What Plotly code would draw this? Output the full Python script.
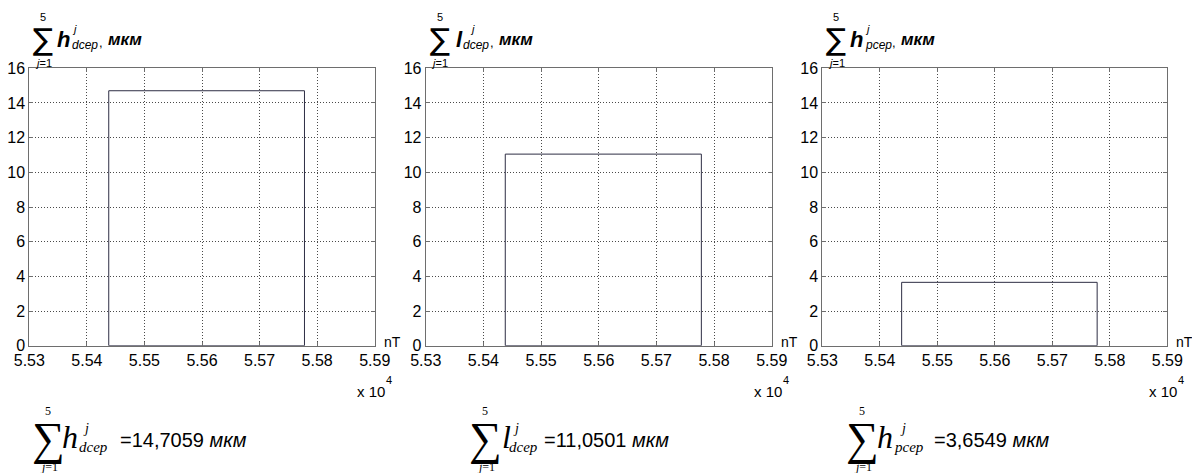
import plotly.graph_objects as go

# ---- data ----
tick_values = [55300, 55400, 55500, 55600, 55700, 55800, 55900]
tick_labels = ["5.53", "5.54", "5.55", "5.56", "5.57", "5.58", "5.59"]
y_ticks = [0, 2, 4, 6, 8, 10, 12, 14, 16]
bin_left = [55438, 55438, 55438]
bin_right = [55778, 55778, 55778]
sum_values = [14.7059, 11.0501, 3.6549]
value_texts = ["14,7059", "11,0501", "3,6549"]
symbols = ["h", "l", "h"]
subscripts = ["dcep", "dcep", "pcep"]

W, H = 1192, 473
SANS = "Liberation Sans, Arial, sans-serif"
SERIF = "Liberation Serif, Times New Roman, serif"
AXC = "#6e6e6e"

def px(x):
    return x / W

def py(y):
    return 1 - y / H

axis_left = [29.3, 425.7, 822.3]
axis_right = [374.7, 771.7, 1167.3]
y_top, y_bot = 68.3, 345.7

fig = go.Figure()
layout = dict(
    width=W, height=H, margin=dict(l=0, r=0, t=0, b=0, autoexpand=False),
    paper_bgcolor="white", plot_bgcolor="white", showlegend=False,
)
annotations = []

def ann(x, y, text, size, family=SANS, xanchor="center", yanchor="middle", color="#000"):
    annotations.append(dict(
        x=px(x), y=py(y), xref="paper", yref="paper", text=text, showarrow=False,
        xanchor=xanchor, yanchor=yanchor,
        font=dict(size=size, family=family, color=color),
    ))

# offsets (relative to the sum sign centre) for the title pieces
title_off = [
    dict(sym=12, sup=27, sub=27, comma=54, unit=63),
    dict(sym=14, sup=28, sub=21, comma=48, unit=57),
    dict(sym=12, sup=27, sub=27, comma=54, unit=63),
]
bottom_off = [
    dict(sym=12, sup=33, sub=29, eq=70),
    dict(sym=15, sup=26, sub=22, eq=57),
    dict(sym=13, sup=36, sub=30, eq=70),
]
sum_centers = [48, 485, 862]

for i in range(3):
    sfx = "" if i == 0 else str(i + 1)
    xa, ya = "x" + sfx, "y" + sfx
    left, right = bin_left[i], bin_right[i]
    fig.add_trace(go.Bar(
        x=[(left + right) / 2], y=[sum_values[i]], width=[right - left],
        marker=dict(color="rgba(0,0,0,0)", line=dict(color="#2e2e44", width=1)),
        xaxis=xa, yaxis=ya, hoverinfo="skip",
    ))
    common = dict(
        showline=True, linecolor=AXC, linewidth=1, mirror="ticks",
        ticks="inside", ticklen=4, tickcolor=AXC,
        showgrid=True, gridcolor="#4a4a4a", griddash="1px,2px", gridwidth=1,
        zeroline=False, tickfont=dict(size=16, family=SANS, color="#000"),
        fixedrange=True, automargin=False,
    )
    layout["xaxis" + sfx] = dict(
        common, domain=[px(axis_left[i]), px(axis_right[i])],
        range=[tick_values[0], tick_values[-1]], tickvals=tick_values,
        ticktext=tick_labels, anchor=ya,
    )
    layout["yaxis" + sfx] = dict(
        common, domain=[py(y_bot), py(y_top)], range=[0, 16],
        tickvals=y_ticks, anchor=xa,
    )

    L = axis_left[i]
    R = axis_right[i]
    # axis title (top-left)
    sx = L + 14
    o = title_off[i]
    ann(sx, 17, "5", 11)
    ann(sx, 40, "\u2211", 30, family="DejaVu Sans")
    ann(sx, 63, "<i>j</i>=1", 11)
    ann(sx + o["sym"], 40, "<b><i>%s</i></b>" % symbols[i], 22, xanchor="left")
    ann(sx + o["sup"], 29, "<i>j</i>", 11, xanchor="left")
    ann(sx + o["sub"], 45, "<i>%s</i>" % subscripts[i], 12, xanchor="left")
    ann(sx + o["comma"], 42, ",", 13, xanchor="left")
    ann(sx + o["unit"], 40, "<b><i>мкм</i></b>", 17, xanchor="left")

    # nT and exponent label
    ann(R + 7, 342, "nT", 14, xanchor="left")
    ann(R - 20, 391, "x 10", 15, xanchor="left")
    ann(R + 9, 380, "4", 11, xanchor="left")

    # bottom formula
    cx = sum_centers[i]
    b = bottom_off[i]
    ann(cx, 411, "5", 12, family=SERIF)
    ann(cx, 438, "\u2211", 46, family=SERIF)
    ann(cx + 1, 467, "<i>j</i>=1", 12, family=SERIF)
    ann(cx + b["sym"], 437, "<i>%s</i>" % symbols[i], 32, family=SERIF, xanchor="left")
    ann(cx + b["sup"], 428, "<i>j</i>", 14, family=SERIF, xanchor="left")
    ann(cx + b["sub"], 447, "<i>%s</i>" % subscripts[i], 15, family=SERIF, xanchor="left")
    ann(cx + b["eq"], 440, "=%s <i>мкм</i>" % value_texts[i], 20, xanchor="left")

layout["annotations"] = annotations
fig.update_layout(**layout)
fig.write_html(
    "out.html",
    config={"displayModeBar": False},
    post_script="document.body.style.margin='0';document.body.style.padding='0';"
                "document.body.style.overflow='hidden';",
)
